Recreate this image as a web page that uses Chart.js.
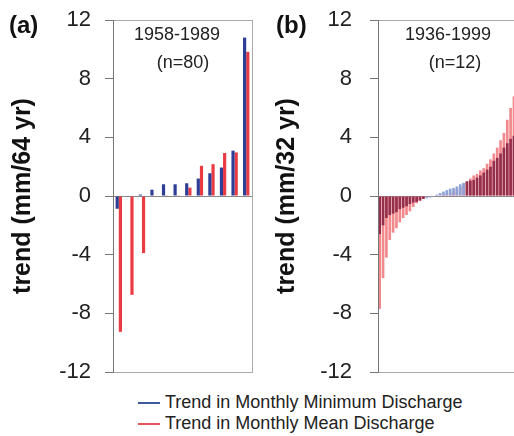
<!DOCTYPE html>
<html><head><meta charset="utf-8">
<script src="https://cdn.jsdelivr.net/npm/chart.js@4"></script>
<style>
html,body{margin:0;padding:0;background:#fff;}
#wrap{position:relative;width:514px;height:436px;overflow:hidden;font-family:"Liberation Sans",Arial,sans-serif;}
#ca{position:absolute;left:0;top:0;}
#cb{position:absolute;left:258px;top:0;}
.pl{position:absolute;font-weight:bold;font-size:24px;color:#111;line-height:28px;}
.leg{position:absolute;left:138px;font-size:18px;color:#222;display:flex;align-items:center;line-height:21px;}
.sw{display:inline-block;width:22px;height:2px;margin-right:5px;}
</style></head><body>
<div id="wrap">
<canvas id="ca" width="258" height="385" style="width:258px;height:385px"></canvas>
<canvas id="cb" width="262" height="385" style="width:262px;height:385px"></canvas>
<div class="pl" style="left:9px;top:11px">(a)</div>
<div class="pl" style="left:276px;top:11px">(b)</div>
<div class="leg" style="top:392px"><span class="sw" style="background:#3d5a9e"></span>Trend in Monthly Minimum Discharge</div>
<div class="leg" style="top:413px"><span class="sw" style="background:#e8555a"></span>Trend in Monthly Mean Discharge</div>
</div>
<script>
// ---- Data ----
const yTicks = [-12, -8, -4, 0, 4, 8, 12];
const stationsA = ['1','2','3','4','5','6','7','8','9','10','11','12'];
const minTrendA = [-0.87, 0.03, 0.1, 0.43, 0.8, 0.8, 0.87, 1.19, 1.55, 1.94, 3.09, 10.8];
const meanTrendA = [-9.26, -6.74, -3.89, -0.05, 0.02, 0.02, 0.57, 2.06, 2.17, 2.93, 2.97, 9.83];
const periodA = ['1958-1989', '(n=80)'];
const yTitleA = 'trend (mm/64 yr)';

const minTrendB = [-2.6,-2.0,-1.5,-1.3,-1.2,-1.1,-0.9,-0.8,-0.7,-0.55,-0.45,-0.4,-0.3,-0.2,-0.15,-0.1,-0.05,
  0.1,0.2,0.3,0.4,0.5,0.55,0.65,0.8,0.9,1.0,
  1.05,1.1,1.25,1.4,1.6,1.8,2.0,2.4,2.6,2.9,3.3,3.6,3.9,4.1,4.2];
const meanTrendB = [-7.7,-5.6,-4.2,-3.0,-2.5,-2.2,-1.8,-1.5,-1.3,-1.05,-0.75,-0.5,-0.35,-0.2,-0.1,-0.06,-0.03,
  0.02,0.05,0.1,0.15,0.2,0.3,0.45,0.6,0.8,1.0,
  1.2,1.4,1.5,1.75,1.9,2.2,2.5,2.9,3.3,3.8,4.3,5.2,6.0,6.8,7.1];
const stationsB = minTrendB.map((_, i) => String(i + 1));
const periodB = ['1936-1999', '(n=12)'];
const yTitleB = 'trend (mm/32 yr)';

// ---- Styles ----
const FONT = '"Liberation Sans", Arial, sans-serif';
const BLUE = '#2d3e94', RED = '#ea3a42';
const MAROON = '#962f4c', PINK = '#f2898d', LIGHTBLUE = '#8ea3d8';

function boxPlugin(lines, dx) {
  return {
    id: 'box',
    afterDraw(chart) {
      const {ctx, chartArea: a} = chart;
      ctx.save();
      ctx.strokeStyle = '#aaaaaa';
      ctx.lineWidth = 1;
      ctx.strokeRect(a.left + 0.5, a.top + 0.5, a.right - a.left, a.bottom - a.top);
      ctx.strokeStyle = '#777777';
      ctx.beginPath(); ctx.moveTo(a.left + 0.5, a.top); ctx.lineTo(a.left + 0.5, a.bottom + 1); ctx.stroke();
      ctx.fillStyle = '#222';
      ctx.font = '18px ' + FONT;
      ctx.textAlign = 'center';
      ctx.textBaseline = 'middle';
      ctx.fillText(lines[0], a.left + dx[0], 35);
      ctx.fillText(lines[1], a.left + dx[1], 63);
      ctx.restore();
    }
  };
}

function yScale(title, width, pad) {
  return {
    min: -12, max: 12,
    afterBuildTicks(scale) { scale.ticks = yTicks.map(v => ({value: v})); },
    afterFit(scale) { scale.width = width; scale.paddingTop = 0; scale.paddingBottom = 0; },
    ticks: {color: '#222', font: {family: FONT, size: 22}, padding: pad},
    grid: {
      color: c => (c.tick && c.tick.value === 0) ? '#8a8a8a' : 'rgba(0,0,0,0)',
      tickColor: '#777', tickLength: 8, drawTicks: true
    },
    border: {display: true, color: '#777'},
    title: {display: true, text: title, color: '#111', padding: 0,
      font: {family: FONT, size: 25, weight: 'bold'}}
  };
}

new Chart(document.getElementById('ca'), {
  type: 'bar',
  data: {
    labels: stationsA,
    datasets: [
      {label: 'Trend in Monthly Minimum Discharge', data: minTrendA, backgroundColor: BLUE},
      {label: 'Trend in Monthly Mean Discharge', data: meanTrendA, backgroundColor: RED}
    ]
  },
  options: {
    responsive: false, animation: false,
    layout: {padding: {left: 8, right: 6, top: 20, bottom: 13}},
    datasets: {bar: {categoryPercentage: 0.55, barPercentage: 1.0}},
    plugins: {legend: {display: false}, tooltip: {enabled: false}},
    scales: {
      x: {display: false},
      y: yScale(yTitleA, 105, 14)
    }
  },
  plugins: [boxPlugin(periodA, [64, 70])]
});

new Chart(document.getElementById('cb'), {
  type: 'bar',
  data: {
    labels: stationsB,
    datasets: [
      {label: 'Trend in Monthly Minimum Discharge', data: minTrendB, order: 0,
        backgroundColor: c => {
          const b = minTrendB[c.dataIndex], r = meanTrendB[c.dataIndex];
          return (b * r > 0 && Math.abs(b) <= Math.abs(r)) ? MAROON : LIGHTBLUE;
        }},
      {label: 'Trend in Monthly Mean Discharge', data: meanTrendB, order: 1, backgroundColor: PINK}
    ]
  },
  options: {
    responsive: false, animation: false,
    layout: {padding: {left: 14, right: 1, top: 20, bottom: 13}},
    datasets: {bar: {grouped: false, categoryPercentage: 1.0, barPercentage: 0.8}},
    plugins: {legend: {display: false}, tooltip: {enabled: false}},
    scales: {
      x: {display: false},
      y: yScale(yTitleB, 106, 18)
    }
  },
  plugins: [boxPlugin(periodB, [70, 77])]
});
</script>
</body></html>
